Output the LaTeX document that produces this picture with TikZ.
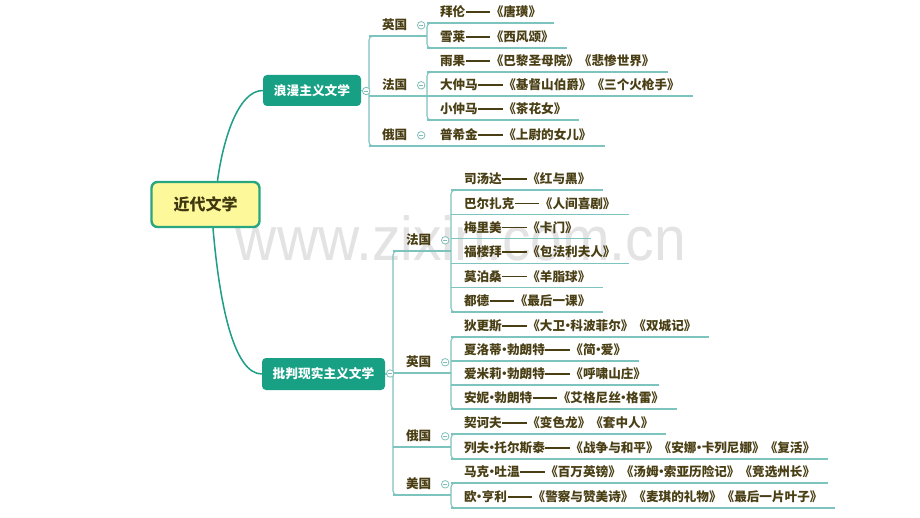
\documentclass[tikz,border=0pt]{standalone}
\usepackage{fontspec}
\newfontfamily\cjk{Noto Sans CJK SC}
\newfontfamily\wmfont{Liberation Sans}
\usetikzlibrary{calc}
\definecolor{boxgreen}{HTML}{17A084}
\definecolor{rootfill}{HTML}{FDF99B}
\definecolor{rootline}{HTML}{27A680}
\definecolor{linec}{HTML}{7DC3BE}
\definecolor{curvec}{HTML}{1E9E86}
\definecolor{knobc}{HTML}{7FBDB9}
\definecolor{txt}{HTML}{4A3F14}
\definecolor{roottxt}{HTML}{3F380F}
\definecolor{wmc}{HTML}{E3E3E3}
% full-width double dash and narrow middle dot
\newcommand\dd{\kern0.04em\rule[0.34em]{1.95em}{0.11em}\kern0.04em}
\newcommand\dt{\makebox[0.42em]{·}}
\tikzset{
  leaf/.style={font=\cjk\bfseries\fontsize{12.6pt}{14pt}\selectfont, text=txt,
    inner xsep=13pt, inner ysep=6.2pt, text height=9pt, text depth=0pt,
    anchor=south west, outer sep=0pt},
  ul/.style={draw=linec, line width=1.1pt},
  brk/.style={draw=linec, line width=1.1pt, rounded corners=4pt},
  curve/.style={draw=curvec, line width=1.5pt},
  topbox/.style={fill=boxgreen, rounded corners=4pt, text=white,
    font=\cjk\bfseries\fontsize{12.7pt}{14pt}\selectfont, inner sep=0pt},
  knob/.style={circle, draw=knobc, fill=white, line width=0.8pt, minimum size=7.5pt, inner sep=0pt,
    path picture={\draw[knobc, line width=0.7pt] ([xshift=-2.2pt]path picture bounding box.center) -- ([xshift=2.2pt]path picture bounding box.center);}},
}
\begin{document}
\begin{tikzpicture}[x=1pt,y=-1pt]
\useasboundingbox[fill=white] (0,0) rectangle (920,518);
% watermark
\node[text=wmc, font=\wmfont\fontsize{62pt}{62pt}\selectfont, anchor=base, inner sep=0pt] (wm) at (461,261) {\scalebox{0.92}[1]{www.zixin.com.cn}};

% root and main topics
\node[draw=rootline, line width=2.4pt, fill=rootfill, rounded corners=6pt, minimum width=108pt, minimum height=45pt,
  font=\cjk\bfseries\fontsize{16pt}{18pt}\selectfont, text=roottxt] (root) at (205.5,204.5) {近代文学};
\node[topbox, minimum width=98pt, minimum height=31pt] (R) at (312,90.5) {浪漫主义文学};
\node[topbox, minimum width=123pt, minimum height=32pt] (C) at (323.5,374) {批判现实主义文学};

\draw[curve] ($(root.north)+(12,0)$) .. controls (223,140) and (238,90.5) .. (R.west);
\draw[curve] ($(root.south)+(7.5,0)$) .. controls (220,310) and (235,374) .. (C.west);

% ---------- romantic branch ----------
\node[leaf] (rE) at (369,36) {英国};
\node[leaf] (rF) at (369,96) {法国};
\node[leaf] (rR) at (369,146) {俄国};
\coordinate (RB) at (369,91);
\draw[ul] (R.east) -- (R.east -| RB);
\draw[brk] ($(rE.south west)+(10,0)$) -- (rE.south west) -- (rR.south west) -- ($(rR.south west)+(10,0)$);

\node[leaf] (a1) at (427,23) {拜伦\dd《唐璜》};
\node[leaf] (a2) at (427,48) {雪莱\dd《西风颂》};
\node[leaf] (a3) at (427,72) {雨果\dd《巴黎圣母院》《悲惨世界》};
\node[leaf] (a4) at (427,96) {大仲马\dd《基督山伯爵》《三个火枪手》};
\node[leaf] (a5) at (427,120) {小仲马\dd《茶花女》};
\node[leaf] (a6) at (427,146) {普希金\dd《上尉的女儿》};

\draw[ul] (rE.south west) -- (a1.south west |- rE.south);
\draw[ul] (rF.south west) -- (a4.south west);
\draw[ul] (rR.south west) -- (a6.south west);
\foreach \n in {a1,a2,a3,a4,a5,a6}{\draw[ul] (\n.south west) -- (\n.south east);}
\draw[brk] ($(a1.south west)+(10,0)$) -- (a1.south west) -- (a2.south west) -- ($(a2.south west)+(10,0)$);
\draw[brk] ($(a3.south west)+(10,0)$) -- (a3.south west) -- (a5.south west) -- ($(a5.south west)+(10,0)$);

\node[knob] at ($(R.east)+(5,0.5)$) {};
\node[knob] at ($(rE.east)+(1,0)$) {};
\node[knob] at ($(rF.east)+(1,0)$) {};
\node[knob] at ($(rR.east)+(1,0)$) {};

% ---------- critical realism branch ----------
\node[leaf] (cF) at (393,251) {法国};
\node[leaf] (cE) at (393,373) {英国};
\node[leaf] (cR) at (393,447) {俄国};
\node[leaf] (cA) at (393,495) {美国};
\coordinate (CB) at (393,373);
\draw[ul] (C.east) -- (C.east -| CB);
\draw[brk] ($(cF.south west)+(10,0)$) -- (cF.south west) -- (cA.south west) -- ($(cA.south west)+(10,0)$);

\node[leaf] (b1) at (451,190) {司汤达\dd《红与黑》};
\node[leaf] (b2) at (451,214.4) {巴尔扎克\dd《人间喜剧》};
\node[leaf] (b3) at (451,238.8) {梅里美\dd《卡门》};
\node[leaf] (b4) at (451,263.2) {福楼拜\dd《包法利夫人》};
\node[leaf] (b5) at (451,287.6) {莫泊桑\dd《羊脂球》};
\node[leaf] (b6) at (451,312) {都德\dd《最后一课》};
\node[leaf] (b7) at (451,337) {狄更斯\dd《大卫\dt 科波菲尔》《双城记》};
\node[leaf] (b8) at (451,361) {夏洛蒂\dt 勃朗特\dd《简\dt 爱》};
\node[leaf] (b9) at (451,385) {爱米莉\dt 勃朗特\dd《呼啸山庄》};
\node[leaf] (b10) at (451,409) {安妮\dt 勃朗特\dd《艾格尼丝\dt 格雷》};
\node[leaf] (b11) at (451,434) {契诃夫\dd《变色龙》《套中人》};
\node[leaf] (b12) at (451,459) {列夫\dt 托尔斯泰\dd《战争与和平》《安娜\dt 卡列尼娜》《复活》};
\node[leaf] (b13) at (451,483) {马克\dt 吐温\dd《百万英镑》《汤姆\dt 索亚历险记》《竞选州长》};
\node[leaf] (b14) at (451,508) {欧\dt 亨利\dd《警察与赞美诗》《麦琪的礼物》《最后一片叶子》};

\draw[ul] (cF.south west) -- (b1.south west |- cF.south);
\draw[ul] (cE.south west) -- (b1.south west |- cE.south);
\draw[ul] (cR.south west) -- (b1.south west |- cR.south);
\draw[ul] (cA.south west) -- (b1.south west |- cA.south);
\foreach \n in {b1,b2,b3,b4,b5,b6,b7,b8,b9,b10,b11,b12,b13,b14}{\draw[ul] (\n.south west) -- (\n.south east);}
\draw[brk] ($(b1.south west)+(10,0)$) -- (b1.south west) -- (b6.south west) -- ($(b6.south west)+(10,0)$);
\draw[brk] ($(b7.south west)+(10,0)$) -- (b7.south west) -- (b10.south west) -- ($(b10.south west)+(10,0)$);
\draw[brk] ($(b11.south west)+(10,0)$) -- (b11.south west) -- (b12.south west) -- ($(b12.south west)+(10,0)$);
\draw[brk] ($(b13.south west)+(10,0)$) -- (b13.south west) -- (b14.south west) -- ($(b14.south west)+(10,0)$);

\node[knob] at ($(C.east)+(5,-0.5)$) {};
\node[knob] at ($(cF.east)+(1,0)$) {};
\node[knob] at ($(cE.east)+(1,0)$) {};
\node[knob] at ($(cR.east)+(1,0)$) {};
\node[knob] at ($(cA.east)+(1,0)$) {};
\end{tikzpicture}
\end{document}
